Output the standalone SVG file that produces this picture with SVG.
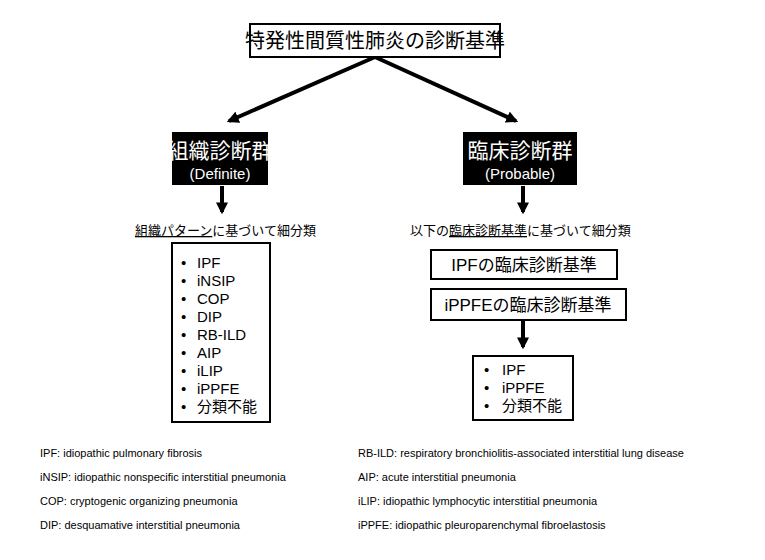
<svg xmlns="http://www.w3.org/2000/svg" width="765" height="560" viewBox="0 0 765 560">
<defs>
<style>
text{font-family:"Liberation Sans","Noto Sans CJK JP",sans-serif;fill:#000}
.box{fill:#fff;stroke:#000;stroke-width:2}
.blk{fill:#000}
.w{fill:#fff}
.ln{stroke:#000;stroke-width:4;fill:none}
.li{font-size:15px}
.fn{font-size:11px}
</style>
<marker id="ah" viewBox="0 0 10 10" refX="8" refY="5" markerWidth="3" markerHeight="3" orient="auto"><path d="M0,0L10,5L0,10z" fill="#000"/></marker>
</defs>
<rect width="765" height="560" fill="#fff"/>
<g id="connectors">
<line class="ln" x1="375" y1="57" x2="229" y2="121" marker-end="url(#ah)"/>
<line class="ln" x1="375" y1="57" x2="516" y2="121" marker-end="url(#ah)"/>
<line class="ln" x1="222" y1="186" x2="222" y2="212" marker-end="url(#ah)"/>
<line class="ln" x1="523" y1="186" x2="523" y2="212" marker-end="url(#ah)"/>
<line class="ln" x1="523" y1="320" x2="523" y2="347" marker-end="url(#ah)"/>
</g>
<g id="title"><rect class="box" x="250" y="24" width="250" height="33"/><text x="375" y="48" font-size="20" text-anchor="middle">特発性間質性肺炎の診断基準</text></g>
<g id="definite"><rect class="blk" x="172" y="132" width="96" height="53"/><text class="w" x="220" y="158" font-size="21" text-anchor="middle" style="fill:#fff">組織診断群</text><text x="220" y="179" font-size="15" text-anchor="middle" style="fill:#fff">(Definite)</text></g>
<g id="probable"><rect class="blk" x="463" y="132" width="114" height="53"/><text x="520" y="158" font-size="21" text-anchor="middle" style="fill:#fff">臨床診断群</text><text x="520" y="179" font-size="15" text-anchor="middle" style="fill:#fff">(Probable)</text></g>
<g id="subL"><text x="135" y="235" font-size="13"><tspan text-decoration="underline">組織パターン</tspan>に基づいて細分類</text></g>
<g id="subR"><text x="410" y="235" font-size="13">以下の<tspan text-decoration="underline">臨床診断基準</tspan>に基づいて細分類</text></g>
<g id="listL"><rect class="box" x="172" y="243" width="98" height="179"/>
<g class="li">
<text x="181" y="268">•</text><text x="197" y="268">IPF</text>
<text x="181" y="286">•</text><text x="197" y="286">iNSIP</text>
<text x="181" y="304">•</text><text x="197" y="304">COP</text>
<text x="181" y="322">•</text><text x="197" y="322">DIP</text>
<text x="181" y="340">•</text><text x="197" y="340">RB-ILD</text>
<text x="181" y="358">•</text><text x="197" y="358">AIP</text>
<text x="181" y="376">•</text><text x="197" y="376">iLIP</text>
<text x="181" y="394">•</text><text x="197" y="394">iPPFE</text>
<text x="181" y="412">•</text><text x="197" y="412">分類不能</text>
</g></g>
<g id="ipfc"><rect class="box" x="431" y="250" width="186" height="29"/><text x="524" y="271" font-size="17" text-anchor="middle">IPFの臨床診断基準</text></g>
<g id="ippfec"><rect class="box" x="431" y="289" width="195" height="31"/><text x="528" y="311" font-size="17" text-anchor="middle">iPPFEの臨床診断基準</text></g>
<g id="listR"><rect class="box" x="473" y="356" width="100" height="64"/>
<g class="li">
<text x="484" y="375">•</text><text x="502" y="375">IPF</text>
<text x="484" y="393">•</text><text x="502" y="393">iPPFE</text>
<text x="484" y="411">•</text><text x="502" y="411">分類不能</text>
</g></g>
<g id="footnotes" class="fn">
<text x="40" y="457">IPF: idiopathic pulmonary fibrosis</text>
<text x="40" y="481">iNSIP: idiopathic nonspecific interstitial pneumonia</text>
<text x="40" y="505">COP: cryptogenic organizing pneumonia</text>
<text x="40" y="529">DIP: desquamative interstitial pneumonia</text>
<text x="358" y="457">RB-ILD: respiratory bronchiolitis-associated interstitial lung disease</text>
<text x="358" y="481">AIP: acute interstitial pneumonia</text>
<text x="358" y="505">iLIP: idiopathic lymphocytic interstitial pneumonia</text>
<text x="358" y="529">iPPFE: idiopathic pleuroparenchymal fibroelastosis</text>
</g>
</svg>
